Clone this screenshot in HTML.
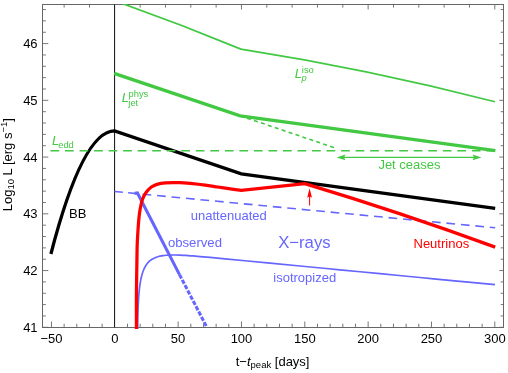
<!DOCTYPE html>
<html><head><meta charset="utf-8">
<style>
html,body{margin:0;padding:0;background:#fff;}
body{width:508px;height:373px;overflow:hidden;font-family:"Liberation Sans",sans-serif;}
svg{display:block;}
text{font-family:"Liberation Sans",sans-serif;}

</style></head><body>
<svg width="508" height="373" viewBox="0 0 508 373">
<rect width="508" height="373" fill="#fff"/>
<defs><filter id="nf" x="0" y="0" width="508" height="373" filterUnits="userSpaceOnUse" color-interpolation-filters="sRGB"><feOffset dx="0" dy="0"/></filter><clipPath id="c"><rect x="42" y="4" width="462" height="325"/></clipPath></defs>
<path d="M51.47 327.5 v-6.0 M64.13 327.5 v-3.8 M76.80 327.5 v-3.8 M89.47 327.5 v-3.8 M102.13 327.5 v-3.8 M127.47 327.5 v-3.8 M140.13 327.5 v-3.8 M152.80 327.5 v-3.8 M165.47 327.5 v-3.8 M178.13 327.5 v-6.0 M190.80 327.5 v-3.8 M203.47 327.5 v-3.8 M216.14 327.5 v-3.8 M228.80 327.5 v-3.8 M241.47 327.5 v-6.0 M254.14 327.5 v-3.8 M266.80 327.5 v-3.8 M279.47 327.5 v-3.8 M292.14 327.5 v-3.8 M304.81 327.5 v-6.0 M317.47 327.5 v-3.8 M330.14 327.5 v-3.8 M342.81 327.5 v-3.8 M355.47 327.5 v-3.8 M368.14 327.5 v-6.0 M380.81 327.5 v-3.8 M393.47 327.5 v-3.8 M406.14 327.5 v-3.8 M418.81 327.5 v-3.8 M431.48 327.5 v-6.0 M444.14 327.5 v-3.8 M456.81 327.5 v-3.8 M469.48 327.5 v-3.8 M482.14 327.5 v-3.8 M494.81 327.5 v-6.0 M64.13 4.5 v3.1 M89.47 4.5 v3.1 M140.13 4.5 v3.1 M165.47 4.5 v3.1 M190.80 4.5 v3.1 M216.14 4.5 v3.1 M241.47 4.5 v5.0 M266.80 4.5 v3.1 M292.14 4.5 v3.1 M317.47 4.5 v3.1 M342.81 4.5 v3.1 M368.14 4.5 v5.0 M393.47 4.5 v3.1 M418.81 4.5 v3.1 M444.14 4.5 v3.1 M469.48 4.5 v3.1 M494.81 4.5 v5.0 M42.5 327.30 h5.8 M503.5 327.30 h-4.2 M42.5 315.95 h3.4 M503.5 315.95 h-2.8 M42.5 304.60 h3.4 M503.5 304.60 h-2.8 M42.5 293.26 h3.4 M503.5 293.26 h-2.8 M42.5 281.91 h3.4 M503.5 281.91 h-2.8 M42.5 270.56 h5.8 M503.5 270.56 h-4.2 M42.5 259.21 h3.4 M503.5 259.21 h-2.8 M42.5 247.86 h3.4 M503.5 247.86 h-2.8 M42.5 236.52 h3.4 M503.5 236.52 h-2.8 M42.5 225.17 h3.4 M503.5 225.17 h-2.8 M42.5 213.82 h5.8 M503.5 213.82 h-4.2 M42.5 202.47 h3.4 M503.5 202.47 h-2.8 M42.5 191.12 h3.4 M503.5 191.12 h-2.8 M42.5 179.78 h3.4 M503.5 179.78 h-2.8 M42.5 168.43 h3.4 M503.5 168.43 h-2.8 M42.5 157.08 h5.8 M503.5 157.08 h-4.2 M42.5 145.73 h3.4 M503.5 145.73 h-2.8 M42.5 134.38 h3.4 M503.5 134.38 h-2.8 M42.5 123.04 h3.4 M503.5 123.04 h-2.8 M42.5 111.69 h3.4 M503.5 111.69 h-2.8 M42.5 100.34 h5.8 M503.5 100.34 h-4.2 M42.5 88.99 h3.4 M503.5 88.99 h-2.8 M42.5 77.64 h3.4 M503.5 77.64 h-2.8 M42.5 66.30 h3.4 M503.5 66.30 h-2.8 M42.5 54.95 h3.4 M503.5 54.95 h-2.8 M42.5 43.60 h5.8 M503.5 43.60 h-4.2 M42.5 32.25 h3.4 M503.5 32.25 h-2.8 M42.5 20.90 h3.4 M503.5 20.90 h-2.8 M42.5 9.56 h3.4 M503.5 9.56 h-2.8" stroke="#686868" stroke-width="0.9" fill="none"/>
<rect x="42.5" y="4.5" width="461.00" height="323.00" fill="none" stroke="#666" stroke-width="1"/>
<line x1="114.55" y1="4.5" x2="114.55" y2="327.5" stroke="#222" stroke-width="1.1"/>
<g clip-path="url(#c)" fill="none" stroke-linejoin="miter" stroke-miterlimit="6">
<path d="M114.6 0.8 Q177.75 23.0 240.9 49.1 Q367.8 69 495 101.7" stroke="#42c842" stroke-width="1.7"/>
<path d="M240.2 115.8 L334.6 147.8" stroke="#42c842" stroke-width="1.6" stroke-dasharray="4 3.3"/>
<path d="M114.1 73.4 L240.2 115.8 L495.4 150.6" stroke="#42c842" stroke-width="3.3"/>
<path d="M114.5 191.5 L122.9 192.3 M128.1 192.8 L495.2 227.8" stroke="#6666ff" stroke-width="1.6" stroke-dasharray="8.7 5.835"/>
<path d="M137.40 351.33 C137.41 349.88 137.43 345.09 137.45 342.63 C137.47 340.16 137.47 338.96 137.50 336.53 C137.53 334.10 137.56 330.86 137.60 328.04 C137.64 325.23 137.70 322.04 137.75 319.66 C137.80 317.28 137.84 315.72 137.90 313.77 C137.96 311.82 138.03 309.66 138.10 307.94 C138.17 306.23 138.22 305.08 138.30 303.47 C138.38 301.86 138.48 300.01 138.60 298.28 C138.72 296.54 138.85 294.75 139.00 293.06 C139.15 291.37 139.33 289.60 139.50 288.15 C139.67 286.70 139.80 285.68 140.00 284.35 C140.20 283.02 140.45 281.50 140.70 280.19 C140.95 278.88 141.20 277.72 141.50 276.52 C141.80 275.31 142.12 274.14 142.50 272.97 C142.88 271.79 143.38 270.47 143.80 269.47 C144.22 268.47 144.55 267.80 145.00 266.98 C145.45 266.16 146.00 265.27 146.50 264.55 C147.00 263.83 147.42 263.30 148.00 262.66 C148.58 262.02 149.33 261.29 150.00 260.72 C150.67 260.16 151.25 259.73 152.00 259.26 C152.75 258.79 153.67 258.30 154.50 257.91 C155.33 257.52 156.08 257.24 157.00 256.94 C157.92 256.64 159.00 256.35 160.00 256.13 C161.00 255.90 162.00 255.74 163.00 255.59 C164.00 255.45 164.83 255.35 166.00 255.26 C167.17 255.17 168.50 255.08 170.00 255.04 C171.50 254.99 173.33 254.98 175.00 255.00 C176.67 255.02 178.17 255.07 180.00 255.15 C181.83 255.23 183.83 255.33 186.00 255.47 C188.17 255.61 190.67 255.79 193.00 255.97 C195.33 256.15 197.17 256.30 200.00 256.54 C202.83 256.79 205.83 257.05 210.00 257.43 C214.17 257.81 219.17 258.28 225.00 258.83 C230.83 259.38 237.50 260.02 245.00 260.73 C252.50 261.45 260.83 262.25 270.00 263.13 C279.17 264.00 288.33 264.88 300.00 266.00 C311.67 267.12 326.67 268.55 340.00 269.83 C353.33 271.11 366.67 272.38 380.00 273.66 C393.33 274.94 406.67 276.22 420.00 277.49 C433.33 278.77 447.50 280.13 460.00 281.32 C472.50 282.52 489.17 284.12 495.00 284.68" stroke="#6666ff" stroke-width="1.7"/>
<path d="M134.6 193.3 L137.4 193 L179.5 274.6" stroke="#6666ff" stroke-width="3.05" stroke-linejoin="miter"/>
<path d="M179.5 274.6 L206.3 326.2" stroke="#6666ff" stroke-width="3.05" stroke-dasharray="4.4 1.55"/>
<path d="M50.9 254 Q82.7 130.9 114.6 130.9 L241.3 173.8 L495.2 208.3" stroke="#000" stroke-width="3.3"/>
<path d="M50.5 150.8 L495 150.8" stroke="#42c842" stroke-width="1.5" stroke-dasharray="8.7 5.83"/>
<path d="M136.45 329.50 C136.44 326.25 136.40 316.25 136.40 310.00 C136.40 303.75 136.37 300.00 136.45 292.00 C136.53 284.00 136.78 269.83 136.90 262.00 C137.03 254.17 137.02 250.33 137.20 245.00 C137.38 239.67 137.68 234.73 138.00 230.00 C138.32 225.27 138.70 220.30 139.10 216.60 C139.50 212.90 139.82 210.73 140.40 207.80 C140.98 204.87 141.60 201.63 142.60 199.00 C143.60 196.37 144.93 194.00 146.40 192.00 C147.87 190.00 149.52 188.32 151.40 187.00 C153.28 185.68 155.38 184.80 157.70 184.10 C160.02 183.40 162.35 183.05 165.30 182.80 C168.25 182.55 172.95 182.62 175.40 182.60 C177.85 182.58 177.13 182.53 180.00 182.70 C182.87 182.87 188.40 183.20 192.60 183.60 C196.80 184.00 201.00 184.53 205.20 185.10 C209.40 185.67 213.60 186.37 217.80 187.00 C222.00 187.63 226.48 188.33 230.40 188.90 C234.32 189.47 239.48 190.15 241.30 190.40 L304.8 183.6 Q399.7 212.1 495.2 247.1" stroke="#ff0000" stroke-width="3.25"/>
</g>
<g stroke="#42c842" fill="#42c842" stroke-width="1.15">
<line x1="341" y1="157.4" x2="477" y2="157.4"/>
<path d="M336.5 157.4 L345.5 154.6 L344 157.4 L345.5 160.2 Z" stroke="none"/>
<path d="M481.5 157.4 L472.5 154.6 L474 157.4 L472.5 160.2 Z" stroke="none"/>
</g>
<g stroke="#ff0000" fill="#ff0000" stroke-width="1.05">
<line x1="309.6" y1="205.5" x2="309.6" y2="195"/>
<path d="M309.6 188.3 L307.2 197.7 L309.6 196.2 L312 197.7 Z" stroke="none"/>
</g>
<g id="tx" filter="url(#nf)">
<g font-size="13" fill="#000">
<text x="37.6" y="331.9" text-anchor="end">41</text>
<text x="37.6" y="275.2" text-anchor="end">42</text>
<text x="37.6" y="218.4" text-anchor="end">43</text>
<text x="37.6" y="161.7" text-anchor="end">44</text>
<text x="37.6" y="104.9" text-anchor="end">45</text>
<text x="37.6" y="48.2" text-anchor="end">46</text>
<text x="51.5" y="343.4" text-anchor="middle">−50</text>
<text x="114.8" y="343.4" text-anchor="middle">0</text>
<text x="178.1" y="343.4" text-anchor="middle">50</text>
<text x="241.5" y="343.4" text-anchor="middle">100</text>
<text x="304.8" y="343.4" text-anchor="middle">150</text>
<text x="368.1" y="343.4" text-anchor="middle">200</text>
<text x="431.5" y="343.4" text-anchor="middle">250</text>
<text x="494.8" y="343.4" text-anchor="middle">300</text>
</g>
<text x="272.6" y="366" text-anchor="middle" font-size="13">t−<tspan font-style="italic">t</tspan><tspan font-size="9.5" dy="2">peak</tspan><tspan dy="-2"> [days]</tspan></text>
<text transform="translate(12.3,211.3) rotate(-90)" font-size="13">Log<tspan font-size="9.5" dy="2">10</tspan><tspan dy="-2"> L [erg s</tspan><tspan font-size="9.5" dy="-5">−1</tspan><tspan dy="5">]</tspan></text>
<g font-size="13">
<text x="69" y="218.3" fill="#000">BB</text>
<text x="190.8" y="220" fill="#6666ff">unattenuated</text>
<text x="167.9" y="247.1" fill="#6666ff" font-size="13.15">observed</text>
<text x="278.2" y="247.7" fill="#6666ff" font-size="16.7">X−rays</text>
<text x="273.3" y="281.6" fill="#6666ff">isotropized</text>
<text x="413.5" y="248.4" fill="#ff0000">Neutrinos</text>
<text x="378.4" y="168.9" fill="#42c842">Jet ceases</text>
<g fill="#42c842">
<text x="51.9" y="144.9" font-style="italic">L</text><text x="58.2" y="147.5" font-size="9.4">edd</text>
<text x="121.8" y="102.2" font-style="italic">L</text><text x="128.3" y="105.5" font-size="9.4">jet</text><text x="128.5" y="96.6" font-size="9.4">phys</text>
<text x="294.8" y="78.3" font-style="italic">L</text><text x="301.6" y="81.3" font-size="9.4" font-style="italic">p</text><text x="301.8" y="72.7" font-size="9.4">iso</text>
</g>
</g>
</g>
</svg>
</body></html>
